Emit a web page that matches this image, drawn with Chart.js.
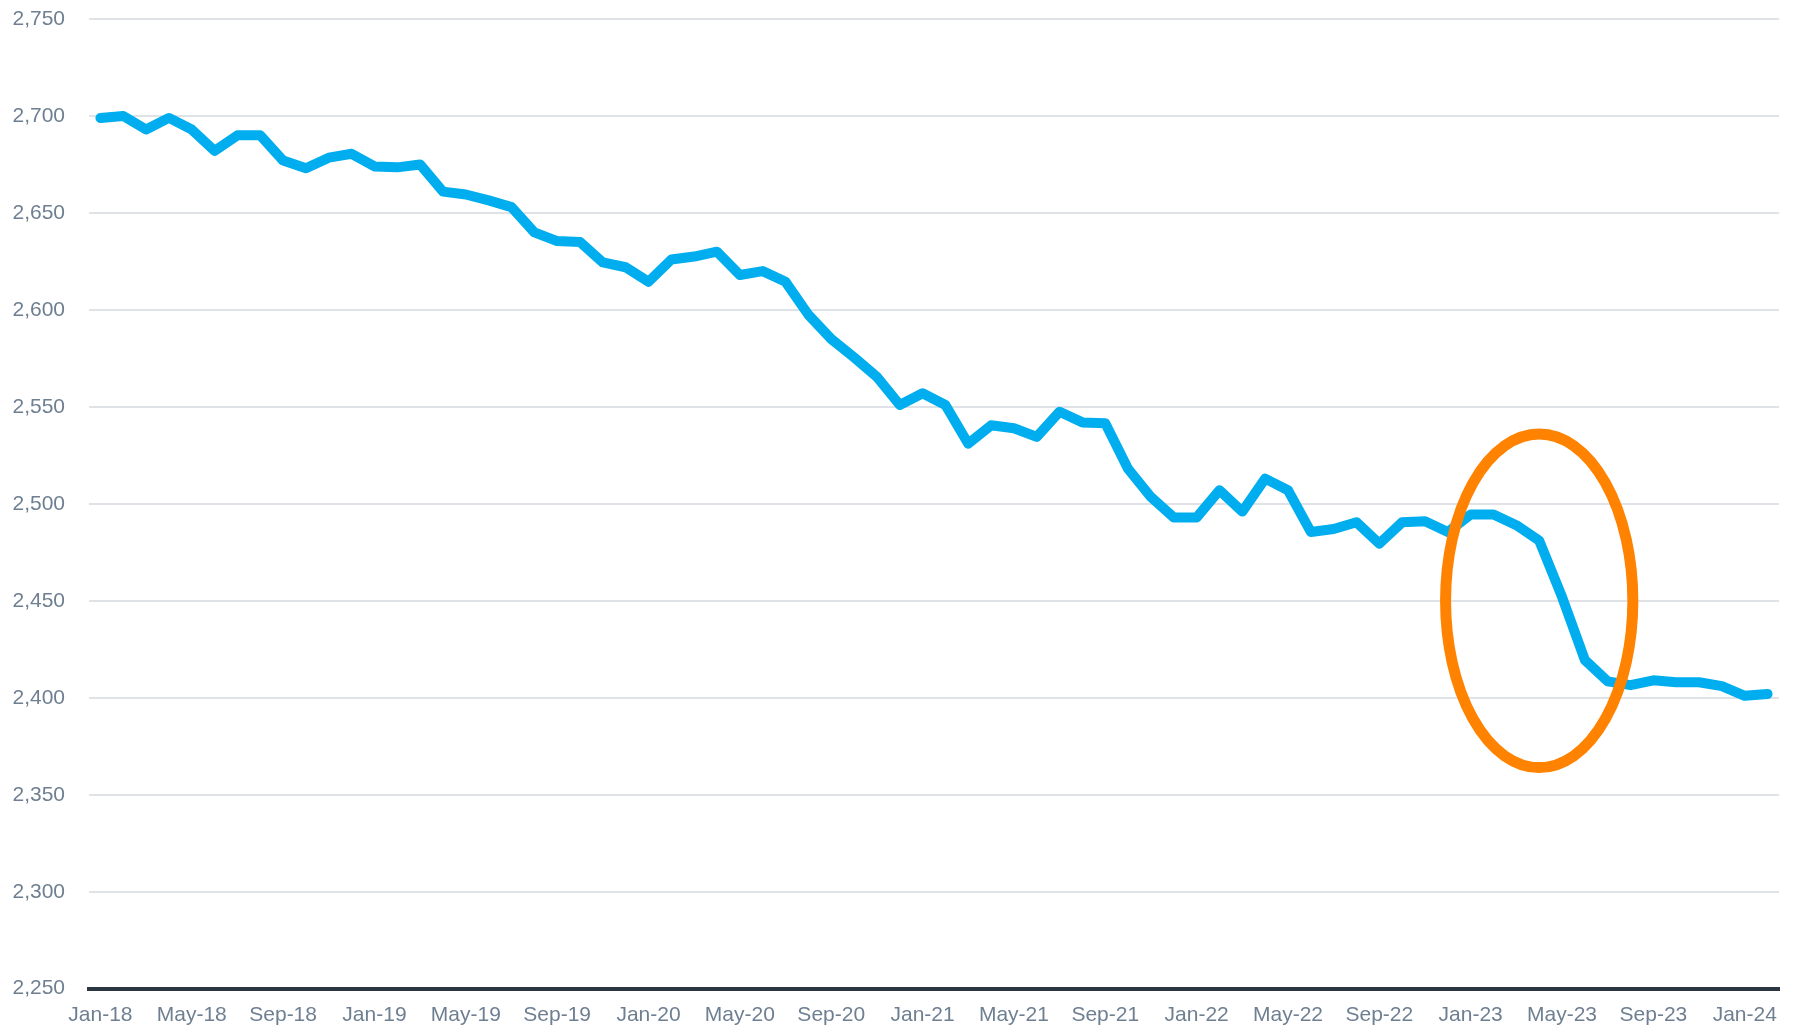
<!DOCTYPE html>
<html>
<head>
<meta charset="utf-8">
<script src="https://cdn.jsdelivr.net/npm/chart.js@4"></script>
<style>
    html, body { margin: 0; padding: 0; background: #ffffff; }
    #wrap { width: 1796px; height: 1027px; position: relative; }
</style>
</head>
<body>
<div id="wrap"><canvas id="trendChart"></canvas></div>
<script>
// Monthly categories, Jan-18 to Feb-24
const months = [
    'Jan-18', 'Feb-18', 'Mar-18', 'Apr-18', 'May-18', 'Jun-18', 'Jul-18', 'Aug-18', 'Sep-18', 'Oct-18', 'Nov-18', 'Dec-18',
    'Jan-19', 'Feb-19', 'Mar-19', 'Apr-19', 'May-19', 'Jun-19', 'Jul-19', 'Aug-19', 'Sep-19', 'Oct-19', 'Nov-19', 'Dec-19',
    'Jan-20', 'Feb-20', 'Mar-20', 'Apr-20', 'May-20', 'Jun-20', 'Jul-20', 'Aug-20', 'Sep-20', 'Oct-20', 'Nov-20', 'Dec-20',
    'Jan-21', 'Feb-21', 'Mar-21', 'Apr-21', 'May-21', 'Jun-21', 'Jul-21', 'Aug-21', 'Sep-21', 'Oct-21', 'Nov-21', 'Dec-21',
    'Jan-22', 'Feb-22', 'Mar-22', 'Apr-22', 'May-22', 'Jun-22', 'Jul-22', 'Aug-22', 'Sep-22', 'Oct-22', 'Nov-22', 'Dec-22',
    'Jan-23', 'Feb-23', 'Mar-23', 'Apr-23', 'May-23', 'Jun-23', 'Jul-23', 'Aug-23', 'Sep-23', 'Oct-23', 'Nov-23', 'Dec-23',
    'Jan-24', 'Feb-24'
];

// Series values
const values = [
    2699, 2700, 2693, 2699, 2693, 2682, 2690, 2690, 2677, 2673, 2678.5, 2680.5,
    2674, 2673.5, 2675, 2661, 2659.5, 2656.5, 2653, 2640, 2635.5, 2635, 2624.5, 2622,
    2614.5, 2626, 2627.5, 2630, 2618, 2620, 2614.5, 2597.5, 2585, 2575.5, 2565.5, 2551,
    2557, 2551, 2531, 2540.5, 2539, 2534.5, 2547.5, 2542, 2541.5, 2518, 2503.5, 2493,
    2493, 2507, 2496, 2513, 2507, 2485.5, 2487, 2490.5, 2479.5, 2490.5, 2491, 2485.5,
    2494.5, 2494.5, 2489, 2481, 2452, 2419.5, 2408.5, 2406.5, 2409, 2408, 2408, 2406,
    2401, 2402
];

// Y axis range and step
const yTicks = [2250, 2300, 2350, 2400, 2450, 2500, 2550, 2600, 2650, 2700, 2750];

// Highlight ellipse: centre (category index, value) and radii (months, value units)
const highlightCentre = [63, 2450];
const highlightRadius = [4.1, 86];

const tickColor = '#6e7f91';
const tickFont = { family: 'Liberation Sans, Arial, sans-serif', size: 21 };

// Draw the orange ellipse on top of the line, placed through the scales
const highlightPlugin = {
    id: 'highlight',
    afterDatasetsDraw(chart) {
        const { ctx, scales: { x, y } } = chart;
        const cx = x.getPixelForValue(highlightCentre[0]);
        const cy = y.getPixelForValue(highlightCentre[1]);
        const rx = Math.abs(x.getPixelForValue(highlightCentre[0] + highlightRadius[0]) - cx);
        const ry = Math.abs(y.getPixelForValue(highlightCentre[1] + highlightRadius[1]) - cy);
        ctx.save();
        ctx.beginPath();
        ctx.ellipse(cx, cy, rx, ry, 0, 0, Math.PI * 2);
        ctx.lineWidth = 11;
        ctx.strokeStyle = '#ff8300';
        ctx.stroke();
        ctx.restore();
    }
};

const ctx = document.getElementById('trendChart').getContext('2d');

new Chart(ctx, {
    type: 'line',
    data: {
        labels: months,
        datasets: [{
            data: values,
            borderColor: '#00aeef',
            borderWidth: 10,
            borderCapStyle: 'round',
            borderJoinStyle: 'round',
            pointRadius: 0,
            tension: 0,
            fill: false
        }]
    },
    options: {
        responsive: true,
        maintainAspectRatio: false,
        animation: false,
        layout: { autoPadding: false, padding: { top: 19, right: 17, bottom: 0, left: 0 } },
        plugins: {
            legend: { display: false },
            tooltip: { enabled: false }
        },
        scales: {
            x: {
                offset: true,
                afterFit: function (scale) { scale.height = 38.3; },
                grid: { display: false, drawTicks: false },
                border: { display: true, color: '#2b3640', width: 4 },
                ticks: {
                    autoSkip: false,
                    maxRotation: 0,
                    padding: 14,
                    color: tickColor,
                    font: tickFont,
                    callback: function (value, index) {
                        return index % 4 === 0 ? months[index] : '';
                    }
                }
            },
            y: {
                min: yTicks[0],
                max: yTicks[yTicks.length - 1],
                afterFit: function (scale) {
                    scale.width = 89;
                    scale.paddingTop = 0;
                    scale.paddingBottom = 0;
                },
                afterBuildTicks: function (scale) {
                    scale.ticks = yTicks.map(v => ({ value: v }));
                },
                grid: { color: '#dfe2e6', lineWidth: 2, drawTicks: false },
                border: { display: false },
                ticks: {
                    padding: 24,
                    color: tickColor,
                    font: tickFont,
                    callback: v => v.toLocaleString('en-US')
                }
            }
        }
    },
    plugins: [highlightPlugin]
});
</script>
</body>
</html>
